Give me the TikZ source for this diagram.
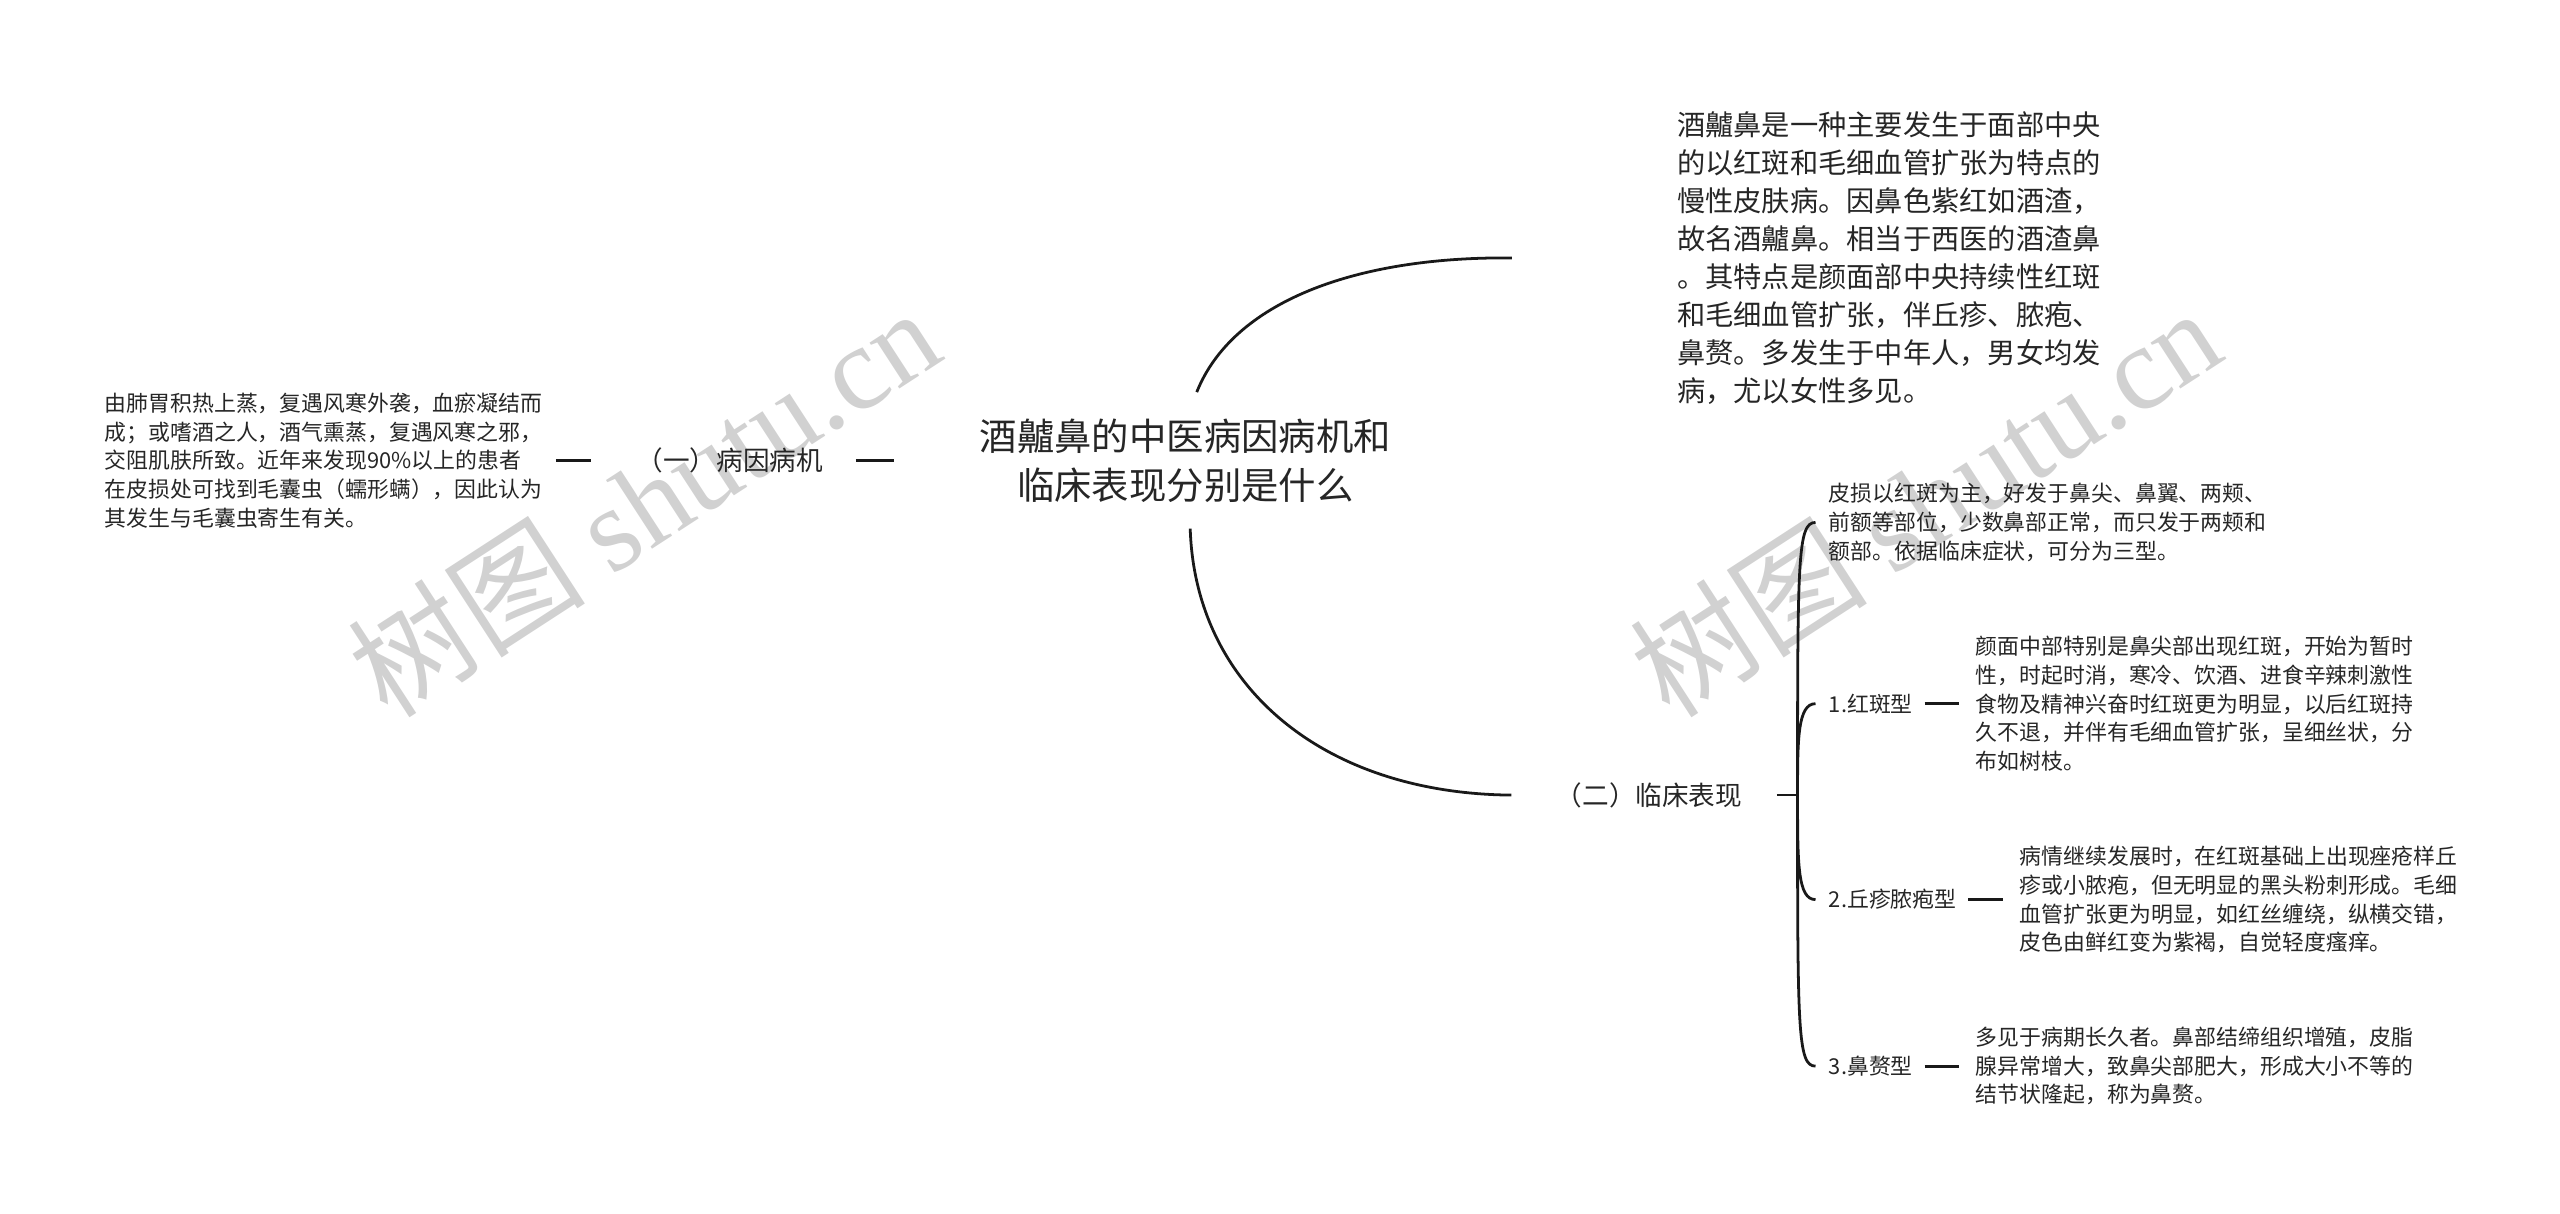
\documentclass[tikz,border=0pt]{standalone}
\usepackage{fontspec}
\setmainfont{Noto Sans CJK SC}
\newfontfamily\wmlatin{Liberation Serif}
\usepackage{tikz}
\usetikzlibrary{
	calc
}

\begin{document}
\begin{tikzpicture}[
	x=1pt,y=-1pt,
	every node/.style={inner sep=0pt,text=black!85},
	c_root/.style={
		font=\fontsize{22.9}{30}\selectfont,
		align=center,
		inner ysep=16pt
	},
	c_main/.style={
		font=\fontsize{16.3}{22}\selectfont
	},
	c_desc/.style={
		font=\fontsize{17.3}{23.3}\selectfont,
		align=left,
		anchor=west
	},
	c_text/.style={
		font=\fontsize{13.4}{17.6}\selectfont,
		align=left,
		anchor=west
	},
	c_link/.style={
		black!90,
		line width=1.7pt
	},
	c_mark/.style={
		text=black!18,
		font=\fontsize{73}{73}\selectfont,
		rotate=33
	}
	]
	
	\useasboundingbox (0,0) rectangle (1568,743);
	
	% =========================================================================
	% WATERMARKS
	% =========================================================================
	
	\node[c_mark] (mark1) at (394,307) {树图 {\wmlatin shutu.cn}};
	\node[c_mark] (mark2) at (1179,307) {树图 {\wmlatin shutu.cn}};
	
	% =========================================================================
	% ROOT
	% =========================================================================
	
	\node[c_root] (root) at (726,282)
	{酒齇鼻的中医病因病机和\\临床表现分别是什么};
	
	% =========================================================================
	% LEFT BRANCH
	% =========================================================================
	
	\node[c_main] (bing) at (447,282) {（一）病因病机};
	
	\node[c_text] (cause) at (64,282)
	{由肺胃积热上蒸，复遇风寒外袭，血瘀凝结而\\
	成；或嗜酒之人，酒气熏蒸，复遇风寒之邪，\\
	交阻肌肤所致。近年来发现90\%以上的患者\\
	在皮损处可找到毛囊虫（蠕形螨），因此认为\\
	其发生与毛囊虫寄生有关。};
	
	\draw[c_link,shorten <=20pt,shorten >=52pt] (bing.east) -- (root.west);
	\draw[c_link,shorten <=8pt,shorten >=28pt] (cause.east) -- (bing.west);
	
	% =========================================================================
	% RIGHT BRANCHES
	% =========================================================================
	
	% Definition
	\node[c_desc] (desc) at (1027,158)
	{酒齇鼻是一种主要发生于面部中央\\
	的以红斑和毛细血管扩张为特点的\\
	慢性皮肤病。因鼻色紫红如酒渣，\\
	故名酒齇鼻。相当于西医的酒渣鼻\\
	。其特点是颜面部中央持续性红斑\\
	和毛细血管扩张，伴丘疹、脓疱、\\
	鼻赘。多发生于中年人，男女均发\\
	病，尤以女性多见。};
	
	\draw[c_link]
	([xshift=7pt]root.north) .. controls (755,185) and (830,157) ..
	([xshift=-101pt]desc.west);
	
	% Clinical signs
	\node[c_main] (clin) at (1010,487) {（二）临床表现};
	
	\draw[c_link]
	([xshift=3pt]root.south) .. controls (732,420) and (810,486) ..
	([xshift=-27pt]clin.west);
	
	\coordinate (jn) at (1101,487);
	\draw[c_link,shorten <=21pt] (clin.east) -- (jn);
	
	\node[c_text] (intro) at (1120,320)
	{皮损以红斑为主，好发于鼻尖、鼻翼、两颊、\\
	前额等部位，少数鼻部正常，而只发于两颊和\\
	额部。依据临床症状，可分为三型。};
	
	\node[c_text] (t1) at (1120,431) {1.红斑型};
	\node[c_text] (t2) at (1120,551) {2.丘疹脓疱型};
	\node[c_text] (t3) at (1120,653) {3.鼻赘型};
	
	\foreach \c in {intro,t1,t2,t3}
	{
		\draw[c_link]
		(jn) .. controls ($(jn |- \c.west)!22pt!(jn)$) and (jn |- \c.west) ..
		([xshift=-8pt]\c.west);
	}
	
	% Types
	\node[c_text] (d1) at (1210,431)
	{颜面中部特别是鼻尖部出现红斑，开始为暂时\\
	性，时起时消，寒冷、饮酒、进食辛辣刺激性\\
	食物及精神兴奋时红斑更为明显，以后红斑持\\
	久不退，并伴有毛细血管扩张，呈细丝状，分\\
	布如树枝。};
	
	\node[c_text] (d2) at (1237,551)
	{病情继续发展时，在红斑基础上出现痤疮样丘\\
	疹或小脓疱，但无明显的黑头粉刺形成。毛细\\
	血管扩张更为明显，如红丝缠绕，纵横交错，\\
	皮色由鲜红变为紫褐，自觉轻度瘙痒。};
	
	\node[c_text] (d3) at (1210,653)
	{多见于病期长久者。鼻部结缔组织增殖，皮脂\\
	腺异常增大，致鼻尖部肥大，形成大小不等的\\
	结节状隆起，称为鼻赘。};
	
	\draw[c_link,shorten <=7pt,shorten >=10pt] (t1.east) -- (d1.west);
	\draw[c_link,shorten <=7pt,shorten >=10pt] (t2.east) -- (d2.west);
	\draw[c_link,shorten <=7pt,shorten >=10pt] (t3.east) -- (d3.west);
	
\end{tikzpicture}
\end{document}
